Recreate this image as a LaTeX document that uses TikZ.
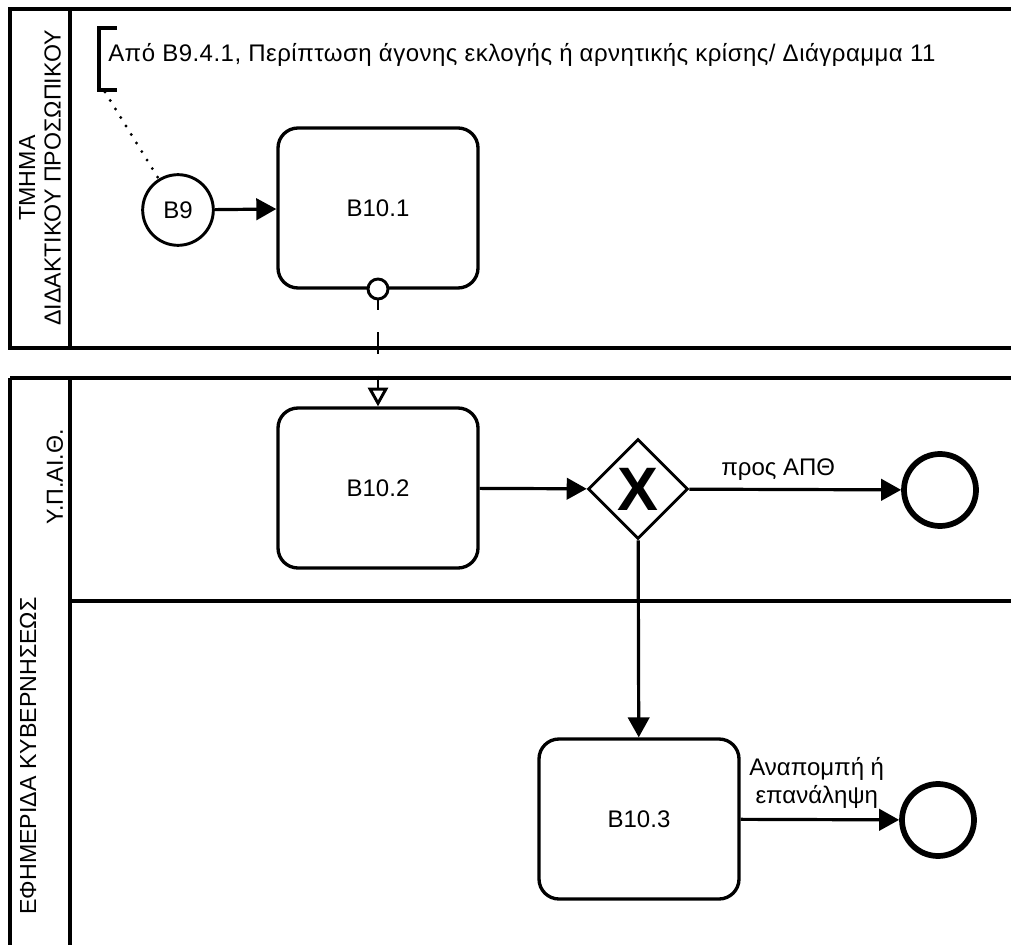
\documentclass[tikz,border=0pt]{standalone}
\usepackage{fontspec}
\setmainfont{Liberation Sans}
\usetikzlibrary{arrows.meta,shapes.geometric,positioning}

\tikzset{
  lbl/.style={font=\fontsize{18}{21}\selectfont},
  poollbl/.style={font=\fontsize{17.4}{19}\selectfont,rotate=90,align=center},
  task/.style={draw,line width=2.5pt,rounded corners=15pt,minimum width=150pt,minimum height=120pt,lbl},
  startev/.style={draw,circle,line width=2.2pt,minimum size=53pt,inner sep=0pt,lbl},
  endev/.style={draw,circle,line width=4.3pt,minimum size=54pt,inner sep=0pt},
  xgate/.style={draw,diamond,line width=2.2pt,minimum width=75pt,minimum height=75pt,inner sep=0pt,
    font=\fontsize{46}{46}\selectfont\bfseries},
  seqflow/.style={line width=2.4pt,-{Triangle[length=15pt,width=16pt]}},
  msgflow/.style={line width=2.2pt,dash pattern=on 16pt off 16.5pt,-{Triangle[open,length=14pt,width=15pt,fill=white]}},
  pool/.style={line width=2.6pt},
}

\begin{document}
\begin{tikzpicture}[x=0.75pt,y=0.75pt,yscale=-1,xscale=1]
\useasboundingbox (0,0) rectangle (1011,945);
%Pool: ΤΜΗΜΑ ΔΙΔΑΚΤΙΚΟΥ ΠΡΟΣΩΠΙΚΟΥ
\draw [pool] (10,9) rectangle (1030,348) ;
\draw [pool] (70,9) -- (70,348) ;
\node [poollbl] (poolA) at (40,178) {ΤΜΗΜΑ\\ΔΙΔΑΚΤΙΚΟΥ ΠΡΟΣΩΠΙΚΟΥ};
%Pool: ΕΦΗΜΕΡΙΔΑ ΚΥΒΕΡΝΗΣΕΩΣ, lanes
\draw [pool] (10,378) -- (1030,378) ;
\draw [pool] (10,378) -- (10,960) ;
\draw [pool] (70,378) -- (70,960) ;
\draw [pool] (70,601) -- (1030,601) ;
\node [poollbl] (poolB) at (28,756) {ΕΦΗΜΕΡΙΔΑ ΚΥΒΕΡΝΗΣΕΩΣ};
\node [poollbl] (laneA) at (55,477) {Υ.Π.ΑΙ.Θ.};

%Annotation
\draw [line width=2.5pt] (117,28) -- (99,28) -- (99,90) -- (117,90) ;
\node [lbl,anchor=west,inner sep=0pt] (note) at (108,55) {\addfontfeature{LetterSpace=2}Από Β9.4.1, Περίπτωση άγονης εκλογής ή αρνητικής κρίσης/ Διάγραμμα 11};
\coordinate (notefoot) at (105,92);

%Events, tasks, gateway
\node [startev] (b9) at (178,210) {Β9};
\node [task] (t1) at (378,208) {Β10.1};
\node [task] (t2) at (378,488) {Β10.2};
\node [xgate] (gw) at (638,489) {X};
\node [endev] (end1) at (940,490) {};
\node [task] (t3) at (639,819) {Β10.3};
\node [endev] (end2) at (938,820) {};

%Flows
\draw [line width=2.4pt,line cap=round,dash pattern=on 0pt off 7.5pt] (notefoot) -- (b9) ;
\draw [seqflow] (b9) -- (t1) ;
\draw [msgflow] (378,289) -- (t2) ;
\node [draw,circle,line width=2.2pt,fill=white,minimum size=15pt,inner sep=0pt] (bnd) at (378,289) {};
\draw [seqflow] (t2) -- (gw) ;
\draw [seqflow] (gw) -- node [lbl,above=2pt,pos=0.42] {προς ΑΠΘ} (end1) ;
\draw [seqflow] (gw) -- (t3) ;
\draw [seqflow] (t3) -- node [lbl,above=4pt,pos=0.48,align=center] {Αναπομπή ή\\επανάληψη} (end2) ;
\end{tikzpicture}
\end{document}
